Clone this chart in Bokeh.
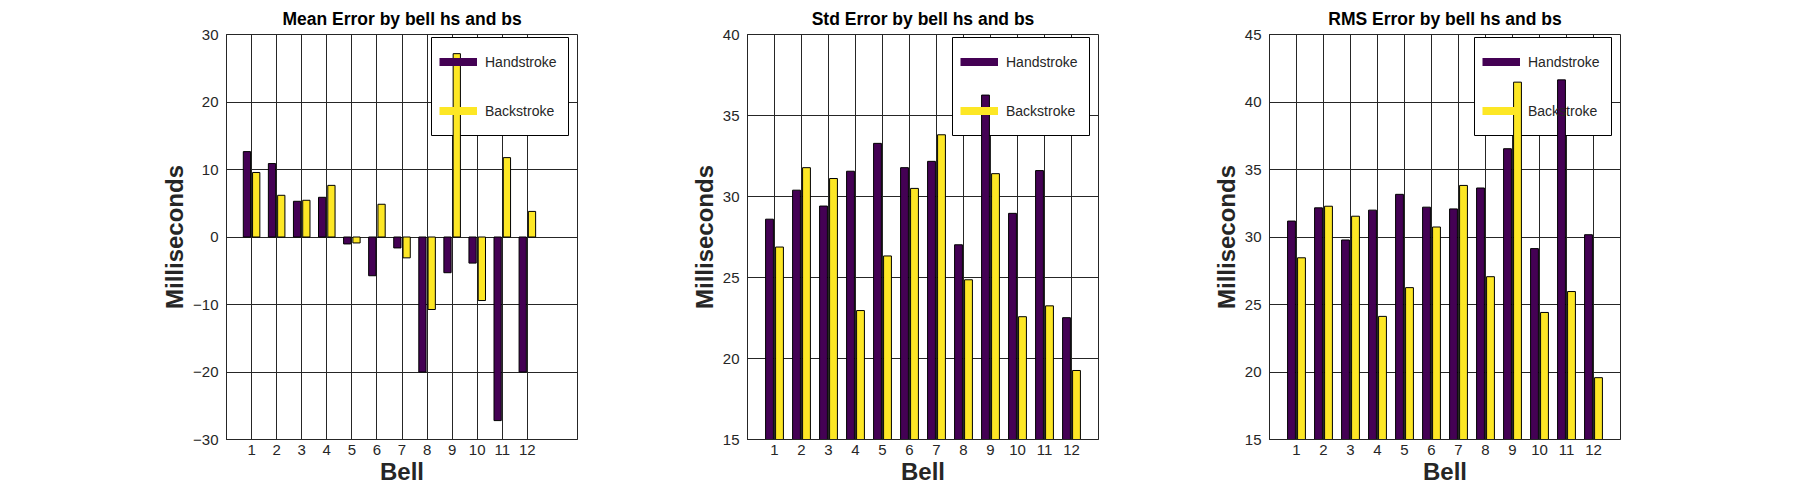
from bokeh.plotting import figure
from bokeh.layouts import row
from bokeh.models import ColumnDataSource, FixedTicker, Legend, LegendItem, BoxAnnotation
from bokeh.transform import dodge
from bokeh.embed import file_html
from bokeh.resources import INLINE

bells = [1, 2, 3, 4, 5, 6, 7, 8, 9, 10, 11, 12]
bell_labels = [str(b) for b in bells]

mean_hs = [12.65, 10.88, 5.29, 5.88, -1.03, -5.74, -1.62, -20.0, -5.29, -3.87, -27.2, -20.0]
mean_bs = [9.56, 6.18, 5.44, 7.65, -0.88, 4.85, -3.09, -10.74, 27.16, -9.41, 11.76, 3.79]
std_hs = [28.6, 30.39, 29.41, 31.56, 33.28, 31.78, 32.17, 27.02, 36.26, 28.96, 31.6, 22.52]
std_bs = [26.88, 31.78, 31.11, 22.96, 26.33, 30.5, 33.81, 24.86, 31.41, 22.58, 23.25, 19.26]
rms_hs = [31.18, 32.16, 29.78, 31.99, 33.16, 32.21, 32.08, 33.63, 36.54, 29.14, 41.64, 30.17]
rms_bs = [28.46, 32.28, 31.54, 24.12, 26.25, 30.74, 33.82, 27.06, 41.47, 24.41, 25.96, 19.58]

titles = ["Mean Error by bell hs and bs", "Std Error by bell hs and bs", "RMS Error by bell hs and bs"]
series_names = ["Handstroke", "Backstroke"]
y_ticks_mean = [-30, -20, -10, 0, 10, 20, 30]
y_ticks_std = [15, 20, 25, 30, 35, 40]
y_ticks_rms = [15, 20, 25, 30, 35, 40, 45]
x_label = "Bell"
y_label = "Milliseconds"

HS_COLOR = "#440154"
BS_COLOR = "#FDE725"
INK = "#262626"
FONT = "Liberation Sans"

FRAME_W, FRAME_H = 351, 405
LEG_PAD, LEG_ROW, LEG_SPACE = 8, 33, 16
LEG_GLYPH_W, LEG_STANDOFF, LEG_LABEL_W = 38, 8, 75
LEG_H = 2 * LEG_PAD + 2 * LEG_ROW + LEG_SPACE
LEG_W = 2 * LEG_PAD + LEG_GLYPH_W + LEG_STANDOFF + LEG_LABEL_W
LEG_LEFT, LEG_TOP_GAP = 205, 3


def make_plot(title, hs, bs, x_end, y_ticks, border_left, border_right):
    src = ColumnDataSource(dict(bell=bells, hs=hs, bs=bs))
    p = figure(
        output_backend="svg", toolbar_location=None,
        frame_width=FRAME_W, frame_height=FRAME_H,
        min_border_left=border_left, min_border_right=border_right,
        min_border_top=31, min_border_bottom=46,
        x_range=(0, x_end), y_range=(y_ticks[0], y_ticks[-1]),
        background_fill_color="white", border_fill_color="white",
    )
    p.outline_line_color = INK
    p.outline_line_width = 1
    p.outline_line_alpha = 1

    p.title.text = title
    p.title.align = "center"
    p.title.text_font = FONT
    p.title.text_font_size = "17.5px"
    p.title.text_font_style = "bold"
    p.title.text_color = "black"
    p.title.standoff = 12

    for ax in (p.xaxis[0], p.yaxis[0]):
        ax.axis_line_color = INK
        ax.major_tick_line_color = INK
        ax.major_tick_in = 4
        ax.major_tick_out = 0
        ax.minor_tick_line_color = None
        ax.major_label_text_font = FONT
        ax.major_label_text_font_size = "15px"
        ax.major_label_text_color = INK
        ax.axis_label_text_font = FONT
        ax.axis_label_text_font_size = "24px"
        ax.axis_label_text_font_style = "bold"
        ax.axis_label_text_color = INK

    p.xaxis.ticker = FixedTicker(ticks=bells)
    p.xaxis.major_label_overrides = {b: lbl for b, lbl in zip(bells, bell_labels)}
    p.xaxis.axis_label = x_label
    p.xaxis.major_label_standoff = 5
    p.xaxis.axis_label_standoff = 0

    p.yaxis.ticker = FixedTicker(ticks=y_ticks)
    p.yaxis.major_label_overrides = {t: (str(t) if t >= 0 else "\u2212" + str(-t)) for t in y_ticks}
    p.yaxis.axis_label = y_label
    p.yaxis.major_label_standoff = 8
    p.yaxis.axis_label_standoff = 2

    p.xgrid[0].ticker = FixedTicker(ticks=bells)
    p.ygrid[0].ticker = FixedTicker(ticks=y_ticks)
    for g in (p.xgrid[0], p.ygrid[0]):
        g.grid_line_color = INK
        g.grid_line_width = 1
        g.grid_line_alpha = 1

    # legend box (white, bordered) painted between the grid and the bars
    box_bottom = FRAME_H - LEG_TOP_GAP - LEG_H
    box = BoxAnnotation(
        left=LEG_LEFT, right=LEG_LEFT + LEG_W,
        top=FRAME_H - LEG_TOP_GAP, bottom=box_bottom,
        left_units="screen", right_units="screen", top_units="screen", bottom_units="screen",
        fill_color="white", fill_alpha=1, line_color="black", line_width=1, line_alpha=1,
        level="underlay", editable=False,
    )
    p.add_layout(box)

    p.vbar(x=dodge("bell", -0.185, range=p.x_range), top="hs", bottom=0, width=0.29,
           source=src, fill_color=HS_COLOR, line_color="black", line_width=1)
    p.vbar(x=dodge("bell", 0.185, range=p.x_range), top="bs", bottom=0, width=0.29,
           source=src, fill_color=BS_COLOR, line_color="black", line_width=1)

    # legend swatches: hidden line renderers (only their legend glyph is drawn)
    lh = p.line(x="bell", y="hs", source=src, line_color=HS_COLOR, line_width=8, visible=False)
    lb = p.line(x="bell", y="bs", source=src, line_color=BS_COLOR, line_width=8, visible=False)
    legend = Legend(
        items=[LegendItem(label=series_names[0], renderers=[lh]),
               LegendItem(label=series_names[1], renderers=[lb])],
        location=(LEG_LEFT + LEG_PAD, box_bottom + LEG_PAD),
        orientation="vertical",
        padding=0, spacing=LEG_SPACE, margin=0,
        glyph_width=LEG_GLYPH_W, glyph_height=LEG_ROW, label_height=LEG_ROW,
        label_width=LEG_LABEL_W, label_standoff=LEG_STANDOFF,
        label_text_font=FONT, label_text_font_size="14px", label_text_color=INK,
        border_line_color=None, background_fill_alpha=0,
        click_policy="none",
    )
    p.add_layout(legend)
    return p


p1 = make_plot(titles[0], mean_hs, mean_bs, 14, y_ticks_mean, 226, 69)
p2 = make_plot(titles[1], std_hs, std_bs, 13, y_ticks_std, 101, 70)
p3 = make_plot(titles[2], rms_hs, rms_bs, 13, y_ticks_rms, 101, 60)

layout = row(p1, p2, p3)
open("out.html", "w").write(file_html(layout, INLINE, title="Bell errors"))
